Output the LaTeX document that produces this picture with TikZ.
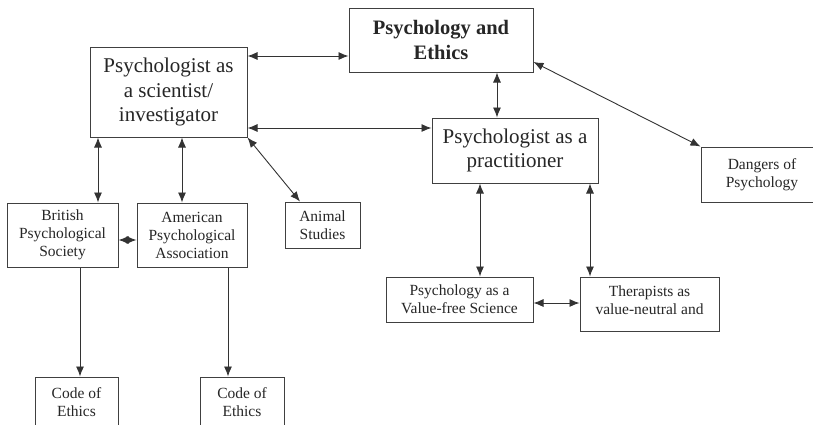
\documentclass[tikz,border=0pt]{standalone}
\usepackage{fontspec}
\setmainfont{Liberation Serif}
\usetikzlibrary{arrows.meta}
\begin{document}
\begin{tikzpicture}[x=1pt,y=-1pt,
  box/.style={draw=black!75,line width=1pt,rectangle,inner sep=0pt,align=center,text=black!85},
  big/.style={font=\fontsize{21}{24.5}\selectfont},
  small/.style={font=\fontsize{15.5}{18}\selectfont},
  tip/.tip={Latex[length=10pt,width=8pt]},
  conn/.style={draw=black!80,line width=0.9pt,tip-tip},
  one/.style={draw=black!80,line width=0.9pt,-tip}]
\useasboundingbox (0,0) rectangle (813,424);
\clip (0,0) rectangle (813,424);
\fill[white] (0,0) rectangle (813,424);
\node[box,minimum width=184pt,minimum height=64pt,font=\bfseries\fontsize{20.5}{25}\selectfont] (pe) at (441,40) {Psychology and\\Ethics};
\node[box,big,minimum width=157pt,minimum height=90pt] (sci) at (168.5,92) {Psychologist as\\a scientist/\\investigator};
\node[box,big,minimum width=166pt,minimum height=65pt] (prac) at (515,150.5) {Psychologist as a\\practitioner};
\node[box,small,minimum width=122pt,minimum height=55pt] (dang) at (762,174.5) {Dangers of\\Psychology};
\node[box,small,minimum width=111pt,minimum height=64pt] (bps) at (62.5,235) {British\\Psychological\\Society};
\node[box,small,minimum width=110pt,minimum height=64pt] (apa) at (192,235) {American\\Psychological\\Association};
\node[box,small,minimum width=75pt,minimum height=46pt] (anim) at (322.5,225) {Animal\\Studies};
\node[box,small,minimum width=147pt,minimum height=45pt] (vfs) at (459.5,299.5) {Psychology as a\\Value-free Science};
\node[box,small,minimum width=139pt,minimum height=54pt,text depth=8pt] (ther) at (649.5,304) {Therapists as\\value-neutral and};
\node[box,small,minimum width=83pt,minimum height=50pt] (c1) at (76.5,402) {Code of\\Ethics};
\node[box,small,minimum width=84pt,minimum height=50pt] (c2) at (242,402) {Code of\\Ethics};
% connectors
\draw[conn] (sci.east |- 0,56) -- (pe.west |- 0,56);
\draw[conn] (sci.east |- 0,128) -- (prac.west |- 0,128);
\draw[conn] (pe.south -| 497,0) -- (prac.north -| 497,0);
\draw[conn] (pe.east |- 0,62) -- (dang.north west);
\draw[conn] (sci.south -| 98,0) -- (bps.north -| 98,0);
\draw[conn] (sci.south -| 182,0) -- (apa.north -| 182,0);
\draw[conn] (sci.south east) -- (anim.north -| 300,0);
\draw[conn] (bps.east |- 0,240) -- (apa.west |- 0,240);
\draw[conn] (prac.south -| 480,0) -- (vfs.north -| 480,0);
\draw[conn] (prac.south -| 590,0) -- (ther.north -| 590,0);
\draw[conn] (vfs.east |- 0,303) -- (ther.west |- 0,303);
\draw[one] (bps.south -| 80,0) -- (c1.north -| 80,0);
\draw[one] (apa.south -| 228,0) -- (c2.north -| 228,0);
\end{tikzpicture}
\end{document}
